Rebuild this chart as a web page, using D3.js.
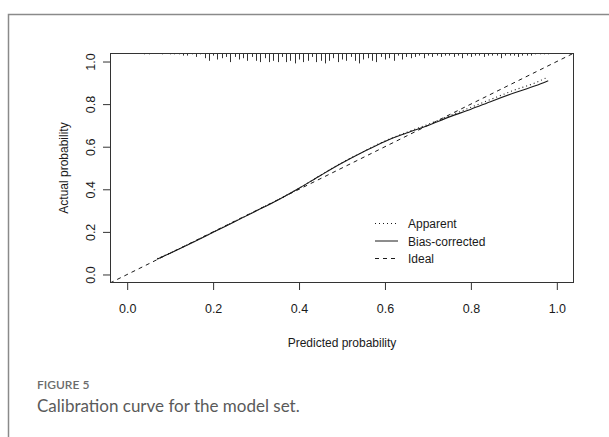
<!DOCTYPE html>
<html>
<head>
<meta charset="utf-8">
<script src="https://cdn.jsdelivr.net/npm/d3@7"></script>
<style>
  html, body { margin: 0; padding: 0; background: #fff; }
  svg { display: block; }
</style>
</head>
<body>
<svg id="chart" width="609" height="437"></svg>
<script>
// Calibration curve: predicted vs. actual probability
const predicted     = [0.07, 0.10, 0.15, 0.20, 0.25, 0.30, 0.35, 0.40, 0.45, 0.50, 0.55, 0.60, 0.65, 0.70, 0.75, 0.80, 0.85, 0.90, 0.95, 0.98];
const apparent      = [0.074, 0.101, 0.149, 0.199, 0.249, 0.299, 0.350, 0.404, 0.466, 0.525, 0.577, 0.627, 0.667, 0.705, 0.745, 0.785, 0.825, 0.865, 0.900, 0.928];
const biasCorrected = [0.072, 0.100, 0.148, 0.198, 0.248, 0.298, 0.349, 0.405, 0.465, 0.523, 0.576, 0.625, 0.664, 0.700, 0.740, 0.776, 0.815, 0.852, 0.886, 0.910];

// Distribution of predicted probabilities (top rug)
const rugProb  = [0.04, 0.05, 0.08, 0.10, 0.11, 0.12, 0.13, 0.14, 0.15, 0.16, 0.17, 0.18, 0.19, 0.20, 0.21, 0.22, 0.23, 0.24, 0.25, 0.26, 0.27, 0.28, 0.29,
                  0.30, 0.31, 0.32, 0.33, 0.34, 0.35, 0.36, 0.37, 0.38, 0.39, 0.40, 0.41, 0.42, 0.43, 0.44, 0.45, 0.46, 0.47, 0.48, 0.49,
                  0.50, 0.51, 0.52, 0.53, 0.54, 0.55, 0.56, 0.57, 0.58, 0.59, 0.60, 0.61, 0.62, 0.63, 0.64, 0.65, 0.66, 0.67, 0.68, 0.69,
                  0.70, 0.71, 0.72, 0.73, 0.74, 0.75, 0.76, 0.77, 0.78, 0.79, 0.80, 0.81, 0.82, 0.83, 0.84, 0.85, 0.86, 0.87, 0.88, 0.89,
                  0.90, 0.91, 0.92, 0.93, 0.94, 0.95, 0.96, 0.97, 0.98];
const rugCount = [1, 1, 1, 1, 1, 1, 2, 2, 1, 3, 1, 4, 6, 2, 5, 4, 3, 7, 3, 5, 4, 6, 3,
                  6, 7, 4, 7, 6, 7, 3, 7, 6, 8, 5, 7, 6, 3, 7, 6, 8, 6, 4, 7,
                  5, 6, 3, 6, 8, 5, 4, 6, 7, 3, 5, 4, 6, 2, 5, 3, 4, 3, 2, 4,
                  2, 3, 2, 3, 2, 2, 3, 2, 4, 2, 3, 2, 2, 3, 2, 2, 2, 4, 2, 2,
                  2, 3, 2, 2, 2, 1, 1, 1, 1];

const tickValues = [0.0, 0.2, 0.4, 0.6, 0.8, 1.0];
const idealLine  = [-0.04, 1.04];

const legendItems = [
  { label: "Apparent",       dash: "1,3" },
  { label: "Bias-corrected", dash: null },
  { label: "Ideal",          dash: "4,4" }
];

const svg = d3.select("#chart");
const ink = "#1a1a1a";
const axisFont = "'Liberation Sans', Arial, sans-serif";

const box = { left: 110, right: 574, top: 53, bottom: 283 };
const x = d3.scaleLinear().domain([-0.04, 1.04]).range([box.left, box.right]);
const y = d3.scaleLinear().domain([-0.04, 1.04]).range([box.bottom, box.top]);

// Outer figure frame
svg.append("path")
  .attr("d", `M 640 14.5 H 8.5 V 460`)
  .attr("fill", "none")
  .attr("stroke", "#8a8a8a")
  .attr("stroke-width", 1.5);

// Plot clip region
svg.append("defs").append("clipPath").attr("id", "plotClip")
  .append("rect")
  .attr("x", box.left).attr("y", box.top)
  .attr("width", box.right - box.left).attr("height", box.bottom - box.top);

// Rug of predicted probabilities hanging from the top
svg.append("g")
  .selectAll("line")
  .data(rugProb.map((p, i) => ({ p, c: rugCount[i] })))
  .join("line")
  .attr("x1", d => Math.round(x(d.p)) + 0.5)
  .attr("x2", d => Math.round(x(d.p)) + 0.5)
  .attr("y1", box.top)
  .attr("y2", d => box.top + d.c * 1.3)
  .attr("stroke", "#333")
  .attr("stroke-width", 1);

const plot = svg.append("g").attr("clip-path", "url(#plotClip)");

// Ideal line
plot.append("line")
  .attr("x1", x(idealLine[0])).attr("y1", y(idealLine[0]))
  .attr("x2", x(idealLine[1])).attr("y2", y(idealLine[1]))
  .attr("stroke", ink).attr("stroke-width", 1)
  .attr("stroke-dasharray", "4,4");

const line = d3.line()
  .x(d => x(d[0]))
  .y(d => y(d[1]))
  .curve(d3.curveMonotoneX);

// Bias-corrected curve
plot.append("path")
  .datum(predicted.map((p, i) => [p, biasCorrected[i]]))
  .attr("d", line)
  .attr("fill", "none")
  .attr("stroke", ink).attr("stroke-width", 1.1);

// Apparent curve
plot.append("path")
  .datum(predicted.map((p, i) => [p, apparent[i]]))
  .attr("d", line)
  .attr("fill", "none")
  .attr("stroke", ink).attr("stroke-width", 1.1)
  .attr("stroke-dasharray", "1,3");

// Plot box
svg.append("rect")
  .attr("x", box.left + 0.5).attr("y", box.top + 0.5)
  .attr("width", box.right - box.left - 1).attr("height", box.bottom - box.top - 1)
  .attr("fill", "none").attr("stroke", "#333").attr("stroke-width", 1);

// X axis
const xAxis = svg.append("g")
  .attr("transform", `translate(0,${box.bottom})`)
  .call(d3.axisBottom(x).tickValues(tickValues).tickSize(7).tickPadding(14).tickFormat(d3.format(".1f")));
xAxis.select(".domain").remove();
xAxis.selectAll(".tick line").attr("stroke", "#333");
xAxis.selectAll(".tick text")
  .attr("fill", ink).attr("font-family", axisFont).attr("font-size", 12.5);

// Y axis with rotated labels
const yAxis = svg.append("g")
  .attr("transform", `translate(${box.left},0)`)
  .call(d3.axisLeft(y).tickValues(tickValues).tickSize(7).tickFormat(d3.format(".1f")));
yAxis.select(".domain").remove();
yAxis.selectAll(".tick line").attr("stroke", "#333");
yAxis.selectAll(".tick text")
  .attr("x", null).attr("dy", null)
  .attr("transform", `translate(${95 - box.left},0) rotate(-90)`)
  .attr("text-anchor", "middle")
  .attr("fill", ink).attr("font-family", axisFont).attr("font-size", 12.5);

// Axis titles
svg.append("text")
  .attr("x", (box.left + box.right) / 2).attr("y", 347)
  .attr("text-anchor", "middle")
  .attr("fill", ink).attr("font-family", axisFont).attr("font-size", 12)
  .text("Predicted probability");

svg.append("text")
  .attr("transform", `translate(68,${(box.top + box.bottom) / 2}) rotate(-90)`)
  .attr("text-anchor", "middle")
  .attr("fill", ink).attr("font-family", axisFont).attr("font-size", 12)
  .text("Actual probability");

// Legend
const legendRows = [223.5, 241, 258.5];
const legend = svg.append("g");
legendItems.forEach((item, i) => {
  legend.append("line")
    .attr("x1", 375).attr("x2", 398)
    .attr("y1", legendRows[i]).attr("y2", legendRows[i])
    .attr("stroke", ink).attr("stroke-width", 1)
    .attr("stroke-dasharray", item.dash);
  legend.append("text")
    .attr("x", 408).attr("y", legendRows[i] + 4.5)
    .attr("fill", ink).attr("font-family", axisFont).attr("font-size", 12)
    .text(item.label);
});

// Figure caption
svg.append("text")
  .attr("x", 37).attr("y", 389)
  .attr("fill", "#6b6b6b").attr("font-family", "Lato, 'Open Sans', sans-serif")
  .attr("font-size", 12).attr("font-weight", 600)
  .text("FIGURE 5");

svg.append("text")
  .attr("x", 37).attr("y", 412)
  .attr("fill", "#5a5a5a").attr("font-family", "Lato, 'Open Sans', sans-serif")
  .attr("font-size", 17)
  .text("Calibration curve for the model set.");
</script>
</body>
</html>
